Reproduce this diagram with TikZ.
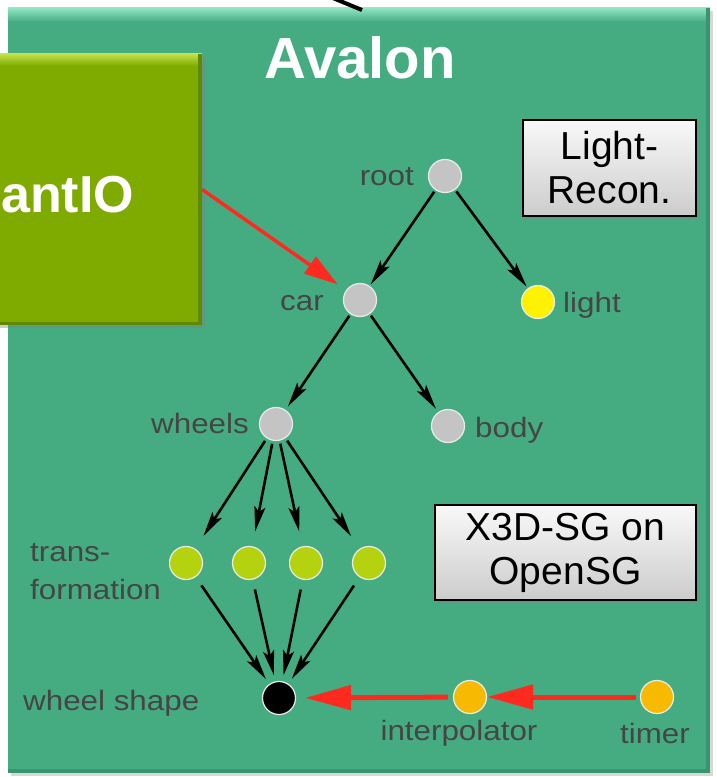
\documentclass[tikz,border=0pt]{standalone}
\usepackage{fontspec}
\setmainfont{Liberation Sans}
\usetikzlibrary{arrows.meta,shadows}
\definecolor{avgreen}{HTML}{45AC82}
\definecolor{avbevel}{HTML}{92E6C3}
\definecolor{avdark}{HTML}{3A9470}
\definecolor{plantgreen}{HTML}{7FAA00}
\definecolor{plantbevel}{HTML}{C2E24A}
\definecolor{plantdark}{HTML}{5F8A00}
\definecolor{nodegray}{HTML}{C4C4C4}
\definecolor{lightyellow}{HTML}{FFF200}
\definecolor{transgreen}{HTML}{B4D20E}
\definecolor{timeorange}{HTML}{F7BA00}
\definecolor{arrowred}{HTML}{FF2A1F}
\definecolor{labelgray}{HTML}{454545}
\newcommand\stretchlbl[1]{\scalebox{1.12}[1]{#1}}
\begin{document}
\begin{tikzpicture}[x=1pt,y=-1pt,
  sgnode/.style={circle,minimum size=33pt,inner sep=0pt,draw=white!92!black,line width=1.2pt},
  greynode/.style={sgnode,fill=nodegray},
  lbl/.style={text=labelgray,font=\fontsize{28}{38}\selectfont,inner sep=0pt},
  blkarrow/.style={-{Stealth[length=25pt,width=11pt,inset=5pt]},line width=2.6pt,black},
  redarrow/.style={-{Triangle[length=46pt,width=24pt]},line width=5pt,arrowred},
  infobox/.style={draw=black,line width=1.8pt,top color=white!95!gray,bottom color=gray!40,
    align=center,font=\fontsize{39}{44}\selectfont,inner sep=0pt,
    drop shadow={shadow xshift=3pt,shadow yshift=-3pt,opacity=0.35}}
]
\useasboundingbox (0,0) rectangle (716,777);
\fill[white] (0,0) rectangle (716,777);

% main Avalon box
\node (avalonbox) [fill=avgreen,minimum width=702pt,minimum height=765pt,inner sep=0pt,
  drop shadow={shadow xshift=3pt,shadow yshift=-3pt,opacity=0.3}] at (359,390.5) {};
\shade[top color=avbevel,bottom color=avgreen] (avalonbox.north west) rectangle ([yshift=-14pt]avalonbox.north east);
\fill[avdark] ([xshift=-4pt]avalonbox.north east) rectangle (avalonbox.south east);
\fill[avdark] ([yshift=4pt]avalonbox.south west) rectangle (avalonbox.south east);

% top connector entering the box
\coordinate (lineA) at (328,-4);
\coordinate (lineB) at (362,10);
\draw[line width=4pt] (lineA) -- (lineB);

\node (title) [text=white,font=\bfseries\fontsize{58}{60}\selectfont,anchor=base,inner sep=0pt] at (360,78) {Avalon};

% PlantIO box (cut off)
\node (plant) [fill=plantgreen,minimum width=276pt,minimum height=271pt,inner sep=0pt,
  drop shadow={shadow xshift=3pt,shadow yshift=-3pt,opacity=0.4}] at (64,189.5) {};
\shade[top color=plantbevel,bottom color=plantgreen] (plant.north west) rectangle ([yshift=-12pt]plant.north east);
\fill[plantdark] ([xshift=-4pt]plant.north east) rectangle (plant.south east);
\fill[plantdark] ([yshift=3pt]plant.south west) rectangle (plant.south east);
\node (plantlabel) [text=white,font=\bfseries\fontsize{52}{55}\selectfont,inner sep=0pt,anchor=base west] at (1,212) {antIO};

% info boxes
\node (lightrecon) [infobox,minimum width=173pt,minimum height=96pt] at (609.5,168) {Light-\\Recon.};
\node (x3dbox) [infobox,minimum width=261pt,minimum height=95pt] at (565.5,552.5) {X3D-SG on\\OpenSG};

% scene graph nodes
\node (root) [greynode] at (445,176) {};
\node (car) [greynode] at (360,300) {};
\node (light) [sgnode,fill=lightyellow] at (538,302) {};
\node (wheels) [greynode] at (276,424) {};
\node (body) [greynode] at (448,426) {};
\node (t1) [sgnode,fill=transgreen] at (186,563) {};
\node (t2) [sgnode,fill=transgreen] at (249,563) {};
\node (t3) [sgnode,fill=transgreen] at (306,563) {};
\node (t4) [sgnode,fill=transgreen] at (369,563) {};
\node (ws) [sgnode,fill=black] at (279,698) {};
\node (interp) [sgnode,fill=timeorange] at (470,697) {};
\node (timer) [sgnode,fill=timeorange] at (657,697) {};

% labels
\node (lroot) [lbl,anchor=base east] at (414,185) {\stretchlbl{root}};
\node (lcar) [lbl,anchor=base east] at (324,310) {\stretchlbl{car}};
\node (llight) [lbl,anchor=base west] at (563,312) {\stretchlbl{light}};
\node (lwheels) [lbl,anchor=base east] at (249,433) {\stretchlbl{wheels}};
\node (lbody) [lbl,anchor=base west] at (475,437) {\stretchlbl{body}};
\node (ltrans) [lbl,anchor=north west,align=left] at (30,543) {\stretchlbl{trans-}\\\stretchlbl{formation}};
\node (lws) [lbl,anchor=base west] at (23,710) {\stretchlbl{wheel shape}};
\node (linterp) [lbl,anchor=base] at (459,740) {\stretchlbl{interpolator}};
\node (ltimer) [lbl,anchor=base] at (655,743) {\stretchlbl{timer}};

% black edges
\draw[blkarrow,shorten <=2pt,shorten >=2pt] (root) -- (car);
\draw[blkarrow,shorten <=2pt,shorten >=2pt] (root) -- (light);
\draw[blkarrow,shorten <=2pt,shorten >=4pt] (car) -- (wheels);
\draw[blkarrow,shorten <=2pt,shorten >=4pt] (car) -- (body);
\foreach \t in {t1,t2,t3,t4}{
  \draw[blkarrow,shorten <=3pt,shorten >=15pt] (wheels) -- (\t);
  \draw[blkarrow,shorten <=10pt,shorten >=6pt] (\t) -- (ws);
}

% red routes
\draw[redarrow,line width=3.5pt,-{Triangle[length=34pt,width=20pt]},shorten >=10pt] (plant.east) -- (car);
\draw[redarrow,shorten <=5pt,shorten >=9pt] (interp) -- (ws);
\draw[redarrow,shorten <=4pt,shorten >=0pt] (timer) -- (interp);
\end{tikzpicture}
\end{document}
